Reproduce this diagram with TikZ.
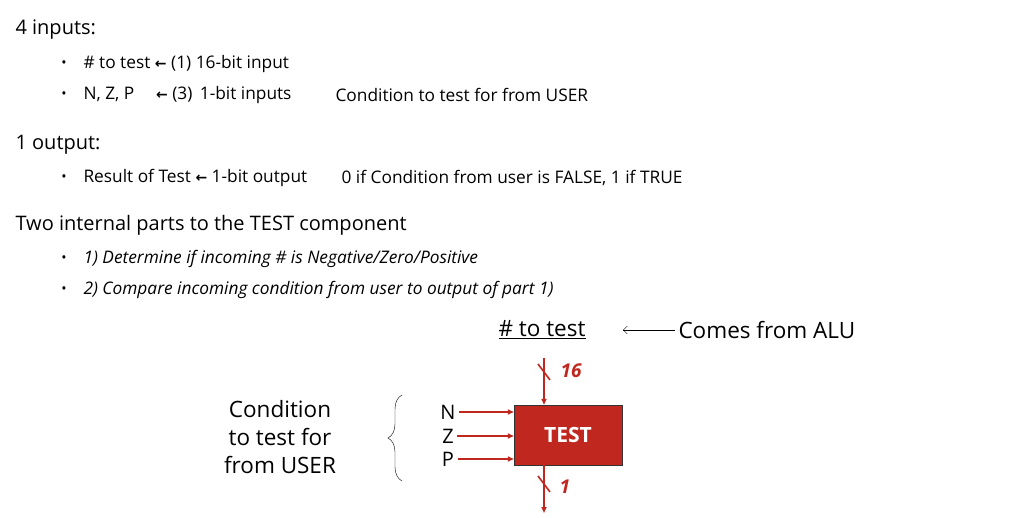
\documentclass[tikz,border=0pt]{standalone}
\usepackage{fontspec}
\setmainfont{Open Sans}
\newfontfamily\arr{DejaVu Sans}
\usetikzlibrary{arrows.meta,decorations.pathreplacing}
\definecolor{tred}{HTML}{C0281F}
\newcommand{\la}{{\arr\fontsize{14}{16}\selectfont\textbf{←}}}
\begin{document}
\begin{tikzpicture}[x=1pt,y=-1pt,
  head/.style={anchor=west,font=\fontsize{20}{22}\selectfont},
  bul/.style={anchor=west,font=\fontsize{17.3}{19}\selectfont},
  dot/.style={anchor=center,font=\fontsize{14}{16}\selectfont},
  big/.style={font=\fontsize{22.5}{28}\selectfont},
  wire/.style={draw=tred,line width=1.6pt,-{Triangle[length=6pt,width=5pt]}},
  num/.style={text=tred,font=\fontsize{19}{21}\selectfont\bfseries\itshape,anchor=west}]
\useasboundingbox (0,0) rectangle (1024,517);
\node[head] (h1) at (12,30) {4 inputs:};
\node[dot] (b1) at (64,64) {•}; \node[bul] (t1) at (80,64) {\# to test \la\ (1) 16-bit input};
\node[dot] (b2) at (64,95) {•}; \node[bul] (t2) at (80,95) {N, Z, P \quad\la\ (3) \,1-bit inputs};
\node[bul] (t2b) at (332,95) {Condition to test for from USER};
\node[head] (h2) at (12,145) {1 output:};
\node[dot] (b3) at (64,178) {•}; \node[bul] (t3) at (80,178) {Result of Test \la\ 1-bit output};
\node[bul] (t3b) at (338,178) {0 if Condition from user is FALSE, 1 if TRUE};
\node[head] (h3) at (12,225) {Two internal parts to the TEST component};
\node[dot] (b4) at (64,259) {•}; \node[bul,font=\fontsize{17.3}{19}\selectfont\itshape] (t4) at (80,259) {1) Determine if incoming \# is Negative/Zero/Positive};
\node[dot] (b5) at (64,290) {•}; \node[bul,font=\fontsize{17.3}{19}\selectfont\itshape] (t5) at (80,290) {2) Compare incoming condition from user to output of part 1)};

\node[big] (nt) at (542,330) {\underline{\# to test}};
\node[big,anchor=west] (alu) at (675,330) {Comes from ALU};
\draw[-{Straight Barb[length=4pt]}] (alu.west) -- (623,330);

\node[draw=black!80,fill=tred,minimum width=108pt,minimum height=60pt,text=white,font=\fontsize{21}{24}\selectfont\bfseries] (test) at (568,435) {TEST};
\coordinate (tin) at (544,358);
\coordinate (tout) at (544,513);
\draw[wire] (tin) -- (test.north -| tin);
\draw[draw=tred,line width=1.6pt] (538,364) -- (550,380);
\node[num] (n16) at (557,371) {16};
\draw[wire] (test.south -| tin) -- (tout);
\draw[draw=tred,line width=1.6pt] (538,476) -- (550,492);
\node[num] (n1) at (556,487) {1};

\node[big,font=\fontsize{20}{22}\selectfont] (N) at (448,412) {N};
\node[big,font=\fontsize{20}{22}\selectfont] (Z) at (448,436) {Z};
\node[big,font=\fontsize{20}{22}\selectfont] (P) at (448,459) {P};
\draw[wire] (N.east) -- (test.west |- N);
\draw[wire] (Z.east) -- (test.west |- Z);
\draw[wire] (P.east) -- (test.west |- P);
\coordinate (bt) at (402,395);
\coordinate (bb) at (402,481);
\draw[decorate,decoration={brace,amplitude=14pt,aspect=0.5}] (bb) -- (bt);
\node[big,align=center] (cond) at (280,437) {Condition\\to test for\\from USER};
\end{tikzpicture}
\end{document}
